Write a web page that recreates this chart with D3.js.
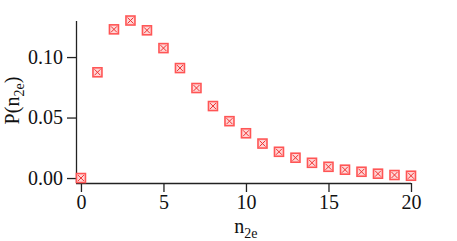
<!DOCTYPE html>
<html>
<head>
<meta charset="utf-8">
<script src="https://cdn.jsdelivr.net/npm/d3@7"></script>
<style>
  body { margin: 0; background: #fff; }
  text { font-family: "Liberation Serif", "Times New Roman", serif; fill: #111; }
</style>
</head>
<body>
<div id="chart"></div>
<script>
const nValues = [0, 1, 2, 3, 4, 5, 6, 7, 8, 9, 10, 11, 12, 13, 14, 15, 16, 17, 18, 19, 20];
const probValues = [0.0, 0.0874, 0.1229, 0.1302, 0.1221, 0.1074, 0.0909, 0.0744, 0.0595, 0.0470,
    0.0370, 0.0285, 0.0217, 0.0168, 0.0126, 0.0093, 0.0069, 0.0052, 0.0036, 0.0025, 0.0019];
const xTicks = [0, 5, 10, 15, 20];
const yTicks = [0.00, 0.05, 0.10];

const width = 457, height = 241;
const margin = {top: 21, right: 46, bottom: 58, left: 76};
const w = width - margin.left - margin.right;
const h = height - margin.top - margin.bottom;

const svg = d3.select("#chart")
    .append("svg")
    .attr("width", width)
    .attr("height", height)
    .append("g")
    .attr("transform", `translate(${margin.left},${margin.top})`);

const xScale = d3.scaleLinear().domain([-0.3, 20]).range([0, w]);
const yScale = d3.scaleLinear().domain([-0.0041, 0.1298]).range([h, 0]);

const xAxis = d3.axisBottom(xScale).tickValues(xTicks).tickSize(9).tickPadding(3).tickFormat(d3.format("d"));
const yAxis = d3.axisLeft(yScale).tickValues(yTicks).tickSize(9).tickPadding(4).tickFormat(d3.format(".2f"));

const gx = svg.append("g")
    .attr("class", "x-axis")
    .attr("transform", `translate(0,${h})`)
    .call(xAxis);
const gy = svg.append("g")
    .attr("class", "y-axis")
    .call(yAxis);

[gx, gy].forEach(g => {
    g.select(".domain").attr("stroke", "#222").attr("stroke-width", 1.3);
    g.selectAll(".tick line").attr("stroke", "#222").attr("stroke-width", 1.3);
    g.selectAll(".tick text")
        .attr("font-size", "20px")
        .attr("font-family", "Liberation Serif, serif")
        .attr("fill", "#111");
});
// plain lines, no end caps
gx.select(".domain").attr("d", `M0,0.5H${w}`);
gy.select(".domain").attr("d", `M0.5,${h}V0`);

// markers: square with a cross inside
const s = 4.5;
const markers = svg.selectAll(".marker")
    .data(nValues.map((n, i) => ({n: n, p: probValues[i]})))
    .enter().append("g")
    .attr("class", "marker")
    .attr("transform", d => `translate(${xScale(d.n)},${yScale(d.p)})`);

markers.append("rect")
    .attr("x", -s)
    .attr("y", -s)
    .attr("width", 2 * s)
    .attr("height", 2 * s)
    .attr("fill", "#ffd6d6")
    .attr("stroke", "#ff5555")
    .attr("stroke-width", 1.6);

markers.append("path")
    .attr("d", `M${-s + 1.5},${-s + 1.5}L${s - 1.5},${s - 1.5}M${s - 1.5},${-s + 1.5}L${-s + 1.5},${s - 1.5}`)
    .attr("stroke", "#ee3333")
    .attr("stroke-width", 1);

// axis labels
const xLabel = svg.append("text")
    .attr("x", xScale(10))
    .attr("y", h + 50)
    .attr("text-anchor", "middle")
    .attr("font-size", "20px");
xLabel.append("tspan").text("n");
xLabel.append("tspan").attr("font-size", "14px").attr("dy", 5).text("2e");

const yLabel = svg.append("text")
    .attr("transform", `translate(${-57},${yScale(0.05) - 17}) rotate(-90)`)
    .attr("text-anchor", "middle")
    .attr("font-size", "20px");
yLabel.append("tspan").text("P(n");
yLabel.append("tspan").attr("font-size", "14px").attr("dy", 5).text("2e");
yLabel.append("tspan").attr("dy", -5).text(")");
</script>
</body>
</html>
